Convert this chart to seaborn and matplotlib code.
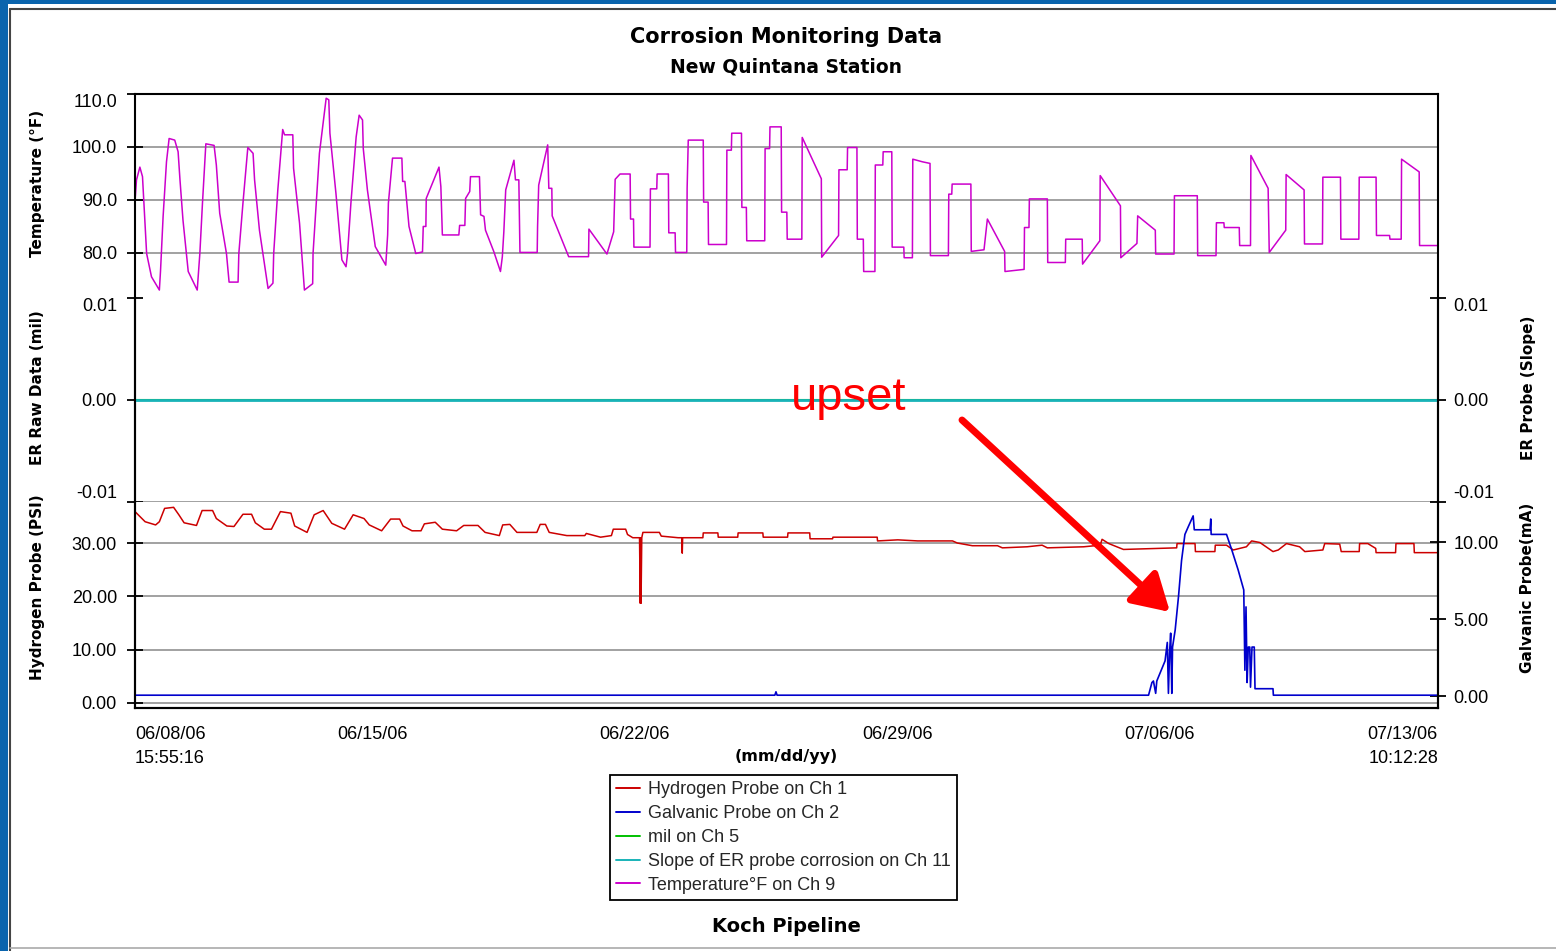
import pandas as pd
import seaborn as sns
import matplotlib.pyplot as plt
from matplotlib.lines import Line2D
from matplotlib.patches import Rectangle

# time axis: 06/08/06 15:55:16 -> 07/13/06 10:12:28, data x = days since start
start = pd.Timestamp("2006-06-08 15:55:16")
end = pd.Timestamp("2006-07-13 10:12:28")
span = (end - start) / pd.Timedelta(days=1)

tick_dates = ["2006-06-15", "2006-06-22", "2006-06-29", "2006-07-06", "2006-07-13"]
tick_names = ["06/15/06", "06/22/06", "06/29/06", "07/06/06", ""]
first_label = "06/08/06\n15:55:16"
last_label = "07/13/06\n10:12:28"

# Temperature °F on Ch 9
temp_days = [0.00, 0.04, 0.13, 0.20, 0.31, 0.44, 0.65, 0.68, 0.75, 0.84, 0.91, 1.06, 1.15, 1.20,
             1.28, 1.42, 1.66, 1.73, 1.80, 1.89, 2.11, 2.17, 2.26, 2.44, 2.51, 2.75, 2.77, 2.88,
             3.01, 3.15, 3.19, 3.32, 3.55, 3.68, 3.70, 3.81, 3.94, 3.99, 4.21, 4.23, 4.39, 4.52,
             4.74, 4.75, 4.92, 5.10, 5.17, 5.20, 5.36, 5.52, 5.63, 5.67, 5.76, 5.90, 5.98, 6.07,
             6.09, 6.20, 6.41, 6.69, 6.74, 6.76, 6.87, 7.12, 7.14, 7.20, 7.31, 7.49, 7.67, 7.69,
             7.76, 7.77, 8.11, 8.16, 8.20, 8.64, 8.66, 8.80, 8.82, 8.93, 8.95, 9.19, 9.22, 9.31,
             9.35, 9.57, 9.75, 9.80, 9.84, 9.89, 10.11, 10.15, 10.24, 10.27, 10.73, 10.74, 10.77,
             11.01, 11.04, 11.12, 11.13, 11.57, 12.10, 12.11, 12.59, 12.77, 12.81, 12.94, 13.21,
             13.22, 13.30, 13.31, 13.74, 13.75, 13.92, 13.93, 14.23, 14.24, 14.41, 14.42, 14.72,
             14.73, 14.76, 15.16, 15.17, 15.29, 15.30, 15.78, 15.79, 15.91, 15.92, 16.18, 16.19,
             16.31, 16.32, 16.80, 16.81, 16.93, 16.94, 17.24, 17.25, 17.39, 17.40, 17.79, 17.80,
             18.31, 18.32, 18.77, 18.78, 19.00, 19.01, 19.26, 19.27, 19.43, 19.44, 19.74, 19.75,
             19.95, 19.96, 20.19, 20.20, 20.51, 20.52, 20.74, 20.75, 21.01, 21.21, 21.22, 21.70,
             21.71, 21.79, 21.80, 22.30, 22.31, 22.65, 22.74, 23.20, 23.21, 23.72, 23.73, 23.85,
             23.86, 24.34, 24.35, 24.82, 24.83, 25.27, 25.28, 25.74, 25.75, 26.29, 26.30, 26.73,
             26.75, 27.22, 27.23, 27.72, 27.73, 28.34, 28.35, 28.84, 28.85, 29.05, 29.06, 29.46,
             29.47, 29.76, 29.77, 30.23, 30.26, 30.70, 30.71, 31.19, 31.20, 31.68, 31.69, 32.16,
             32.17, 32.65, 32.66, 33.11, 33.12, 33.47, 33.48, 33.78, 33.79, 34.26, 34.27, 34.76]
temp_vals = [89.7, 93.8, 96.2, 94.4, 79.9, 75.5, 73.0, 76.5, 86.9, 97.2, 101.6, 101.3, 99.1, 93.8,
             86.2, 76.5, 73.0, 79.9, 89.4, 100.6, 100.3, 96.6, 87.5, 79.9, 74.5, 74.5, 79.9, 89.4,
             99.9, 98.8, 93.8, 84.3, 73.3, 74.3, 79.9, 91.9, 103.3, 102.3, 102.3, 96.0, 85.6, 73.0,
             74.2, 79.9, 98.8, 109.2, 108.9, 102.6, 91.3, 78.7, 77.4, 79.9, 89.4, 101.9, 106.0, 105.1,
             99.7, 91.9, 81.2, 77.7, 83.4, 89.4, 97.9, 97.9, 93.5, 93.5, 85.0, 79.9, 80.2, 85.0,
             85.0, 90.3, 96.2, 92.5, 83.4, 83.4, 85.2, 85.2, 90.3, 91.6, 94.4, 94.4, 87.2, 86.9,
             84.3, 80.3, 76.5, 79.3, 84.0, 91.9, 97.5, 93.8, 93.8, 80.1, 80.1, 85.0, 92.8,
             100.4, 92.2, 92.2, 87.0, 79.3, 79.3, 84.5, 79.8, 84.0, 93.9, 94.9, 94.9,
             86.4, 86.4, 81.1, 81.1, 92.1, 92.1, 94.9, 94.9, 83.8, 83.8, 80.1, 80.1,
             92.2, 101.3, 101.3, 89.6, 89.6, 81.6, 81.6, 99.4, 99.4, 102.6, 102.6, 88.6,
             88.6, 82.3, 82.3, 99.7, 99.7, 103.8, 103.8, 87.7, 87.7, 82.6, 82.6, 101.8,
             94.0, 79.2, 83.3, 95.7, 95.7, 99.9, 99.9, 82.6, 82.6, 76.5, 76.5, 96.6,
             96.6, 99.1, 99.1, 81.1, 81.1, 79.1, 79.1, 97.7, 97.2, 96.9, 79.5, 79.5,
             91.1, 91.1, 93.0, 93.0, 80.3, 80.6, 86.4, 80.3, 76.5, 76.9, 84.8, 84.8,
             90.2, 90.2, 78.2, 78.2, 82.6, 82.6, 77.9, 82.3, 94.6, 88.9, 79.1, 81.8,
             87.0, 84.3, 79.8, 79.8, 90.8, 90.8, 79.5, 79.5, 85.7, 85.7, 84.8, 84.8,
             81.4, 81.4, 98.4, 92.2, 80.1, 84.3, 94.8, 91.9, 81.7, 81.7, 94.3, 94.3,
             82.6, 82.6, 94.3, 94.3, 83.3, 83.3, 82.6, 82.6, 97.7, 95.3, 81.4, 81.4]

# Hydrogen Probe on Ch 1 (PSI)
h2_days = [0.00, 0.27, 0.55, 0.65, 0.79, 1.03, 1.17, 1.31, 1.64, 1.79, 2.07, 2.17, 2.45, 2.64,
           2.88, 3.11, 3.21, 3.45, 3.64, 3.88, 4.16, 4.26, 4.59, 4.78, 5.02, 5.25, 5.59, 5.82,
           6.11, 6.25, 6.58, 6.82, 7.06, 7.15, 7.39, 7.63, 7.72, 8.01, 8.20, 8.58, 8.77, 9.15,
           9.34, 9.72, 9.81, 10.00, 10.19, 10.72, 10.81, 10.95, 11.05, 11.52, 12.00, 12.04, 12.42,
           12.71, 12.76, 13.09, 13.14, 13.28, 13.46, 13.48, 13.49, 13.50, 13.52, 13.55, 13.99,
           14.04, 14.49, 14.59, 14.60, 14.61, 15.15, 15.16, 15.55, 15.56, 16.08, 16.09, 16.75,
           16.76, 17.41, 17.42, 18.00, 18.01, 18.61, 18.62, 19.80, 19.81, 20.35, 20.88, 21.81,
           21.94, 22.34, 23.01, 23.14, 23.80, 24.20, 24.34, 25.31, 25.75, 25.80, 25.98, 26.37,
           27.79, 27.80, 28.28, 28.29, 28.81, 28.82, 29.12, 29.30, 29.65, 29.79, 30.01, 30.36,
           30.50, 30.72, 30.89, 31.07, 31.21, 31.69, 31.74, 32.14, 32.18, 32.66, 32.67, 32.89,
           33.10, 33.11, 33.63, 33.64, 34.12, 34.13, 34.76]
h2_vals = [35.9, 34.0, 33.4, 34.0, 36.5, 36.7, 35.3, 33.8, 33.3, 36.1, 36.1, 34.6, 33.2, 33.1,
           35.4, 35.4, 33.8, 32.6, 32.6, 35.9, 35.6, 33.2, 32.0, 35.3, 36.1, 33.7, 32.6, 35.3,
           34.6, 33.4, 32.3, 34.5, 34.5, 33.2, 32.3, 32.3, 33.6, 33.9, 32.6, 32.3, 33.3, 33.3,
           32.0, 31.4, 33.4, 33.5, 32.0, 32.0, 33.5, 33.5, 32.0, 31.4, 31.4, 31.8, 31.1,
           31.4, 32.6, 32.6, 31.6, 31.0, 31.0, 18.7, 31.0, 18.7, 31.0, 32.0, 32.0,
           31.3, 31.0, 31.0, 28.1, 31.0, 31.0, 31.9, 31.9, 31.1, 31.1, 31.9, 31.9,
           31.1, 31.1, 31.9, 31.9, 30.8, 30.8, 31.1, 31.1, 30.4, 30.6, 30.4, 30.4,
           30.0, 29.5, 29.5, 29.1, 29.3, 29.6, 29.1, 29.3, 29.6, 30.7, 29.9, 28.8,
           29.1, 29.9, 29.9, 28.4, 28.4, 29.6, 29.6, 28.7, 29.3, 30.4, 30.1, 28.4,
           28.7, 29.9, 29.6, 29.3, 28.4, 28.7, 29.9, 29.8, 28.4, 28.4, 29.9, 29.9,
           29.0, 28.2, 28.2, 29.9, 29.9, 28.2, 28.2]

# Galvanic Probe on Ch 2 (mA)
galv_days = [0.00, 17.07, 17.10, 17.13, 27.04, 27.13, 27.17, 27.23, 27.26, 27.48, 27.54, 27.57,
             27.60, 27.63, 27.66, 27.68, 27.75, 27.84, 27.92, 28.01, 28.10, 28.23, 28.26, 28.68,
             28.70, 28.71, 29.12, 29.26, 29.43, 29.58, 29.61, 29.64, 29.67, 29.70, 29.74, 29.76,
             29.80, 29.86, 29.88, 30.36, 30.37, 34.76]
galv_vals = [0.08, 0.08, 0.3, 0.08, 0.08, 0.9, 1.0, 0.2, 1.0, 2.3, 3.5, 0.2,
             2.8, 4.1, 0.2, 3.2, 4.3, 6.5, 8.8, 10.5, 11.0, 11.7, 10.8, 10.8,
             11.5, 10.5, 10.5, 9.5, 8.2, 6.9, 1.7, 5.8, 0.9, 3.2, 3.2, 0.6,
             3.2, 3.2, 0.5, 0.5, 0.08, 0.08]

# ER channels (flat at zero)
er_days = [0.00, 34.76]
mil_vals = [0.0, 0.0]
slope_vals = [0.0, 0.0]

series_names = ["Hydrogen Probe on Ch 1", "Galvanic Probe on Ch 2", "mil on Ch 5",
                "Slope of ER probe corrosion on Ch 11", "Temperature°F on Ch 9"]
series_colors = ["#cc0000", "#0000cc", "#00c000", "#19b3b8", "#cc00cc"]

sns.set_style("white")
plt.rcParams['font.family'] = ['Liberation Sans', 'DejaVu Sans']

W, H = 1556, 951
fig = plt.figure(figsize=(W / 100, H / 100), dpi=100)


def box(x0, y0, x1, y1):
    return [x0 / W, 1 - y1 / H, (x1 - x0) / W, (y1 - y0) / H]


ax_t = fig.add_axes(box(135, 94, 1438, 298))
ax_e = fig.add_axes(box(135, 298, 1438, 502), sharex=ax_t)
ax_h = fig.add_axes(box(135, 502, 1438, 708), sharex=ax_t)
ax_e2 = ax_e.twinx()
ax_g = ax_h.twinx()

grid_kw = dict(color="#9a9a9a", lw=1.3, zorder=0)
line_kw = dict(estimator=None, sort=False, legend=False)

sns.lineplot(x=temp_days, y=temp_vals, ax=ax_t, color=series_colors[4], linewidth=1.1, **line_kw)
sns.lineplot(x=er_days, y=mil_vals, ax=ax_e, color=series_colors[2], linewidth=1.5, **line_kw)
sns.lineplot(x=er_days, y=slope_vals, ax=ax_e2, color=series_colors[3], linewidth=2.0, **line_kw)
sns.lineplot(x=h2_days, y=h2_vals, ax=ax_h, color=series_colors[0], linewidth=1.1, **line_kw)
sns.lineplot(x=galv_days, y=galv_vals, ax=ax_g, color=series_colors[1], linewidth=1.2, **line_kw)

for v in [80, 90, 100]:
    ax_t.axhline(v, **grid_kw)
ax_e.axhline(0.0, **grid_kw)
ax_e.axhline(-0.01, clip_on=False, **grid_kw)
for v in [0, 10, 20, 30]:
    ax_h.axhline(v, **grid_kw)

ax_t.set_ylim(71.5, 110)
ax_e.set_ylim(-0.01, 0.01)
ax_e2.set_ylim(-0.01, 0.01)
ax_h.set_ylim(-0.94, 37.7)
ax_g.set_ylim(-0.75, 12.6)
ax_t.set_xlim(0, span)

tick_kw = dict(direction="inout", length=11, width=1.3, labelsize=13, colors="black")
ax_t.set_yticks([80, 90, 100, 110], ["80.0", "90.0", "100.0", "110.0"])
ax_e.set_yticks([-0.01, 0.0, 0.01], ["-0.01", "0.00", "0.01"])
ax_e2.set_yticks([-0.01, 0.0, 0.01], ["-0.01", "0.00", "0.01"])
ax_h.set_yticks([0, 10, 20, 30], ["0.00", "10.00", "20.00", "30.00"])
ax_g.set_yticks([0, 5, 10], ["0.00", "5.00", "10.00"])
for a in [ax_t, ax_e, ax_h]:
    a.tick_params(axis="y", left=True, right=False, pad=7.5, **tick_kw)
for a in [ax_e2, ax_g]:
    a.tick_params(axis="y", left=False, right=True, pad=5.5, **tick_kw)
    a.set_ylabel("")

ax_t.yaxis.get_major_ticks()[3].label1.set_va("top")
ax_e.yaxis.get_major_ticks()[2].label1.set_va("top")
ax_e.yaxis.get_major_ticks()[0].label1.set_va("bottom")
ax_e2.yaxis.get_major_ticks()[2].label2.set_va("top")
ax_e2.yaxis.get_major_ticks()[0].label2.set_va("bottom")

xt = [0.0] + [(pd.Timestamp(d) - start) / pd.Timedelta(days=1) for d in tick_dates] + [span]
xl = [first_label] + tick_names + [last_label]
ax_h.set_xticks(xt, xl)
ax_h.tick_params(axis="x", direction="inout", length=8, width=1.3, labelsize=13, pad=9, colors="black")
xtl = ax_h.get_xticklabels()
xtl[0].set_ha("left")
xtl[-1].set_ha("right")
for t in xtl:
    t.set_linespacing(1.5)
ax_t.tick_params(axis="x", bottom=False, labelbottom=False)
ax_e.tick_params(axis="x", bottom=False, labelbottom=False)
for a in [ax_t, ax_e, ax_h, ax_e2, ax_g]:
    a.set_xlabel("")
    a.set_ylabel("")
    for s in a.spines.values():
        s.set_color("black")
        s.set_linewidth(1.5)

ax_t.spines["bottom"].set_visible(False)
for a in [ax_e, ax_e2]:
    a.spines["top"].set_visible(False)
    a.spines["bottom"].set_visible(False)
for a in [ax_h, ax_g]:
    a.spines["top"].set_visible(False)
ax_e2.patch.set_visible(False)
ax_g.patch.set_visible(False)

# titles and axis names
bold = dict(fontweight="bold", family="DejaVu Sans", color="black")
fig.text(786 / W, 1 - 37 / H, "Corrosion Monitoring Data", ha="center", va="center", fontsize=15, **bold)
fig.text(786 / W, 1 - 67 / H, "New Quintana Station", ha="center", va="center", fontsize=13.5, **bold)
fig.text(786 / W, 1 - 757 / H, "(mm/dd/yy)", ha="center", va="center", fontsize=11.5, **bold)
fig.text(786 / W, 1 - 926 / H, "Koch Pipeline", ha="center", va="center", fontsize=14, **bold)
fig.text(38 / W, 1 - 183 / H, "Temperature (°F)", rotation=90, ha="center", va="center", fontsize=11, **bold)
fig.text(38 / W, 1 - 388 / H, "ER Raw Data (mil)", rotation=90, ha="center", va="center", fontsize=11, **bold)
fig.text(38 / W, 1 - 587 / H, "Hydrogen Probe (PSI)", rotation=90, ha="center", va="center", fontsize=11, **bold)
fig.text(1528 / W, 1 - 388 / H, "ER Probe (Slope)", rotation=90, ha="center", va="center", fontsize=11, **bold)
fig.text(1528 / W, 1 - 588 / H, "Galvanic Probe(mA)", rotation=90, ha="center", va="center", fontsize=11, **bold)

# legend
handles = [Line2D([], [], color=c, lw=1.4) for c in series_colors]
leg = fig.legend(handles, series_names, loc="upper left", bbox_to_anchor=(610 / W, 1 - 775 / H),
                 frameon=True, fancybox=False, edgecolor="black", framealpha=1, borderpad=0.35,
                 labelspacing=0.38, handlelength=1.3, handletextpad=0.45, fontsize=13,
                 borderaxespad=0)
leg.get_frame().set_linewidth(1.3)

# annotation
fig.text(849 / W, 1 - 398 / H, "upset", color="#ff0000", fontsize=34, ha="center", va="center")
fig.add_artist(plt.Annotation("", xy=(1170, H - 612), xytext=(962, H - 420), xycoords="figure pixels",
                              textcoords="figure pixels",
                              arrowprops=dict(arrowstyle="-|>,head_length=1.1,head_width=0.65",
                                              lw=5, color="#ff0000", mutation_scale=20,
                                              shrinkA=0, shrinkB=0)))

# page frame
fig.add_artist(Rectangle((0, 0), 8 / W, 1, transform=fig.transFigure, color="#0a64ad", lw=0))
fig.add_artist(Rectangle((0, 1 - 4 / H), 1, 4 / H, transform=fig.transFigure, color="#0a64ad", lw=0))
fig.add_artist(Line2D([10 / W, 10 / W], [1 - 9 / H, 0], transform=fig.transFigure, color="#444444", lw=1.5))
fig.add_artist(Line2D([10 / W, 1], [1 - 9 / H, 1 - 9 / H], transform=fig.transFigure, color="#444444", lw=1.5))
fig.add_artist(Line2D([10 / W, 1], [1 - 948 / H, 1 - 948 / H], transform=fig.transFigure, color="#aaaaaa", lw=1.2))

fig.savefig("out.png", dpi=100, facecolor="white")
